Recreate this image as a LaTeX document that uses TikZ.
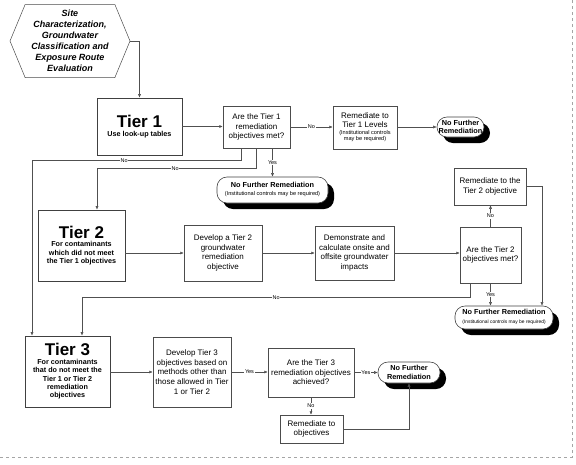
\documentclass[tikz,border=0pt]{standalone}
\usepackage{fontspec}
\setmainfont{Liberation Sans}
\usepackage{tikz}
\usetikzlibrary{arrows.meta,positioning,shapes.symbols,shadows,calc}
\definecolor{linegray}{RGB}{80,80,80}
\definecolor{framegray}{RGB}{165,165,165}
\tikzset{
  tierbox/.style={
    rectangle,
    draw=black!75,
    line width=0.7pt,
    fill=white,
    align=center,
    inner sep=1pt,
    font=\bfseries\fontsize{7.2}{8.4}\selectfont
  },
  stepbox/.style={
    rectangle,
    draw=black!70,
    line width=0.5pt,
    fill=white,
    align=center,
    inner sep=1pt,
    font=\fontsize{8}{9.6}\selectfont
  },
  endbox/.style={
    rectangle,
    rounded corners=10pt,
    draw=black!75,
    line width=0.6pt,
    fill=white,
    align=center,
    inner sep=1pt,
    font=\bfseries\fontsize{7.3}{8.4}\selectfont,
    drop shadow={shadow xshift=6pt, shadow yshift=-6pt, fill=black, opacity=1}
  },
  startbox/.style={
    signal,
    signal to=west and east,
    signal pointer angle=135,
    draw=black!70,
    line width=0.5pt,
    fill=white,
    align=center,
    inner sep=1pt,
    font=\bfseries\itshape\fontsize{9}{11}\selectfont
  },
  flow/.style={-{Latex[length=3.5pt,width=3pt]}, line width=0.5pt, linegray},
  lbl/.style={fill=white, inner sep=0.6pt, font=\fontsize{5.5}{6}\selectfont, text=black}
}
\newcommand{\tiername}[1]{{\fontsize{17}{19}\selectfont #1}}
\newcommand{\notetext}[2][5.6]{{\mdseries\fontsize{#1}{6.4}\selectfont\begin{tabular}{@{}c@{}}#2\end{tabular}}}

\begin{document}
\begin{tikzpicture}[x=1pt, y=-1pt]
\useasboundingbox (0,0) rectangle (576,464);
\draw[framegray, dashed, line width=0.4pt] (0,457) -- (572,457) -- (572,0);

% start and tier 1
\node[startbox, minimum width=120pt, minimum height=73pt] (site) at (70,41) {Site\\Characterization,\\Groundwater\\Classification and\\Exposure Route\\Evaluation};
\node[tierbox, minimum width=85pt, minimum height=57pt] (tier1) at (139.5,126.5) {\tiername{Tier 1}\\Use look-up tables};
\node[stepbox, minimum width=67pt, minimum height=42pt] (ask1) at (256.5,127) {Are the Tier 1\\remediation\\objectives met?};
\node[stepbox, minimum width=64pt, minimum height=43pt] (fix1) at (365,127.5) {Remediate to\\Tier 1 Levels\\\notetext{(Institutional controls\\may be required)}};
\node[endbox, minimum width=47pt, minimum height=20pt] (done1) at (460.5,127) {No Further\\Remediation};
\node[endbox, minimum width=111pt, minimum height=26pt] (done2) at (272.5,190) {No Further Remediation\\\notetext{(Institutional controls may be required)}};

% tier 2
\node[tierbox, minimum width=87pt, minimum height=71pt] (tier2) at (81.5,245.5) {\tiername{Tier 2}\\For contaminants\\which did not meet\\the Tier 1 objectives};
\node[stepbox, minimum width=78pt, minimum height=56pt] (dev2) at (223,253) {Develop a Tier 2\\groundwater\\remediation\\objective};
\node[stepbox, minimum width=79pt, minimum height=54pt] (demo) at (354.5,253) {Demonstrate and\\calculate onsite and\\offsite groundwater\\impacts};
\node[stepbox, minimum width=61pt, minimum height=56pt] (ask2) at (490.5,255) {Are the Tier 2\\objectives met?};
\node[stepbox, minimum width=72pt, minimum height=37pt] (fix2) at (490,186.5) {Remediate to the\\Tier 2 objective};
\node[endbox, minimum width=98pt, minimum height=23pt] (done3) at (504,317.5) {No Further Remediation\\\notetext[4.9]{(Institutional controls may be required)}};

% tier 3
\node[tierbox, minimum width=85pt, minimum height=71pt] (tier3) at (67.5,371.5) {\tiername{Tier 3}\\For contaminants\\that do not meet the\\Tier 1 or Tier 2\\remediation\\objectives};
\node[stepbox, minimum width=78pt, minimum height=70pt] (dev3) at (192,372) {Develop Tier 3\\objectives based on\\methods other than\\those allowed in Tier\\1 or Tier 2};
\node[stepbox, minimum width=86pt, minimum height=49pt] (ask3) at (311,372.5) {Are the Tier 3\\remediation objectives\\achieved?};
\node[endbox, minimum width=62pt, minimum height=21pt] (done4) at (409,372.5) {No Further\\Remediation};
\node[stepbox, minimum width=63pt, minimum height=28pt] (fix3) at (311.5,429) {Remediate to\\objectives};

\draw[flow] (site.east) -| (tier1.north);
\draw[flow] (tier1.east) -- (ask1.west |- tier1.east);
\draw[flow] (ask1.east) -- node[lbl] {No} (fix1.west |- ask1.east);
\draw[flow] (fix1.east |- done1.west) -- (done1.west);
\draw[flow] (ask1.south -| done2.north) -- node[lbl] {Yes} (done2.north);
\draw[flow] ([xshift=-15pt]ask1.south) -- ++(0,12) -| node[lbl, pos=0.28] {No} ([xshift=-35.5pt]tier3.north);
\draw[flow] (ask1.south) -- ++(0,20) -| node[lbl, pos=0.255] {No} ([xshift=15.5pt]tier2.north);

\draw[flow] (tier2.east |- dev2.west) -- (dev2.west);
\draw[flow] (dev2.east) -- (demo.west |- dev2.east);
\draw[flow] (demo.east) -- (ask2.west |- demo.east);
\draw[flow] (ask2.north) -- node[lbl] {No} (ask2.north |- fix2.south);
\draw[flow] (fix2.east) -| ([xshift=38pt]done3.north);
\draw[flow] (ask2.south) -- node[lbl] {Yes} (ask2.south |- done3.north);
\draw[flow] ([xshift=-20pt]ask2.south) -- ++(0,14) -| node[lbl, pos=0.25] {No} ([xshift=14.5pt]tier3.north);

\draw[flow] (tier3.east |- dev3.west) -- (dev3.west);
\draw[flow] (dev3.east) -- node[lbl] {Yes} (ask3.west |- dev3.east);
\draw[flow] (ask3.east) -- node[lbl] {Yes} (done4.west |- ask3.east);
\draw[flow] (ask3.south) -- node[lbl] {No} (ask3.south |- fix3.north);
\draw[flow] (fix3.east) -| (done4.south);
\end{tikzpicture}
\end{document}
